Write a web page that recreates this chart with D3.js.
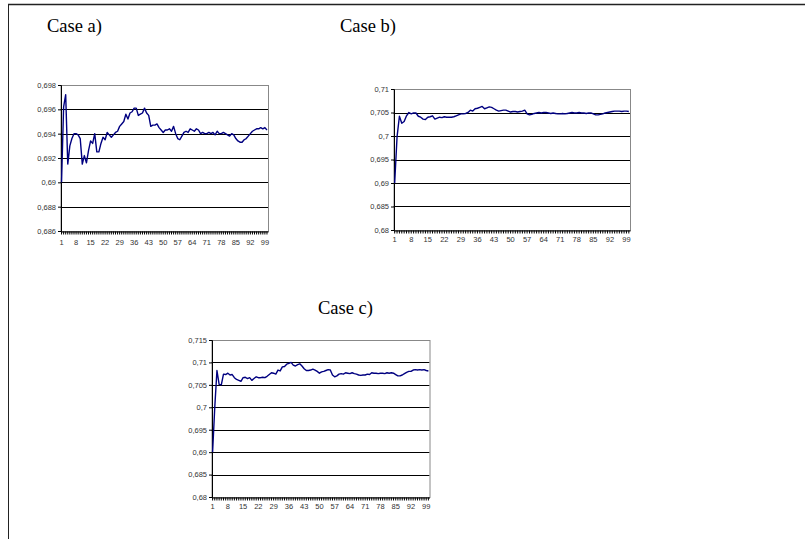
<!DOCTYPE html>
<html>
<head>
<meta charset="utf-8">
<script src="https://cdn.jsdelivr.net/npm/d3@7"></script>
<style>
  body { margin: 0; background: #fff; }
  svg text { font-family: Arial, "Liberation Sans", sans-serif; }
  .title { font-family: "Liberation Serif", "Times New Roman", serif; font-size: 18.5px; }
</style>
</head>
<body>
<svg id="fig" width="805" height="539"></svg>
<script>
(function() {
    'use strict';

    // iteration number 1..100
    var categories = d3.range(1, 101);
    var xLabels = [1, 8, 15, 22, 29, 36, 43, 50, 57, 64, 71, 78, 85, 92, 99];

    var seriesA = [
        0.6900, 0.6962, 0.6972, 0.6915, 0.6930, 0.6936, 0.6940, 0.6940, 0.6939, 0.6936,
        0.6915, 0.6922, 0.6916, 0.6926, 0.6934, 0.6932, 0.6940, 0.6925, 0.6925, 0.6932,
        0.6937, 0.6935, 0.6941, 0.6939, 0.6937, 0.6939, 0.6941, 0.6942, 0.6946, 0.6948,
        0.6950, 0.6956, 0.6952, 0.6957, 0.6958, 0.6961, 0.6961, 0.6955, 0.6956, 0.6957,
        0.6961, 0.6957, 0.6955, 0.6946, 0.6947, 0.6947, 0.6948, 0.6945, 0.6943, 0.6941,
        0.6943, 0.6943, 0.6944, 0.6942, 0.6946, 0.6940, 0.6936, 0.6935, 0.6938, 0.6941,
        0.6942, 0.6941, 0.6944, 0.6943, 0.6942, 0.6944, 0.6943, 0.6940, 0.6941, 0.6940,
        0.6940, 0.6941, 0.6940, 0.6941, 0.6939, 0.6942, 0.6940, 0.6940, 0.6941, 0.6940,
        0.6939, 0.6938, 0.6940, 0.6939, 0.6936, 0.6934, 0.6933, 0.6933, 0.6935, 0.6936,
        0.6938, 0.6940, 0.6942, 0.6943, 0.6944, 0.6944, 0.6945, 0.6944, 0.6945, 0.6943
    ];
    var seriesB = [
        0.6900, 0.6998, 0.7042, 0.7027, 0.7031, 0.7043, 0.7050, 0.7047, 0.7049, 0.7049,
        0.7042, 0.7040, 0.7036, 0.7035, 0.7040, 0.7041, 0.7043, 0.7036, 0.7038, 0.7040,
        0.7039, 0.7041, 0.7040, 0.7040, 0.7040, 0.7041, 0.7043, 0.7045, 0.7047, 0.7047,
        0.7048, 0.7050, 0.7055, 0.7053, 0.7058, 0.7059, 0.7061, 0.7063, 0.7058, 0.7060,
        0.7062, 0.7061, 0.7058, 0.7055, 0.7053, 0.7054, 0.7055, 0.7055, 0.7053, 0.7051,
        0.7052, 0.7052, 0.7051, 0.7052, 0.7053, 0.7055, 0.7047, 0.7045, 0.7046, 0.7048,
        0.7049, 0.7050, 0.7049, 0.7050, 0.7050, 0.7049, 0.7048, 0.7049, 0.7048, 0.7047,
        0.7047, 0.7048, 0.7047, 0.7048, 0.7049, 0.7050, 0.7049, 0.7049, 0.7050, 0.7049,
        0.7049, 0.7048, 0.7049, 0.7049, 0.7047, 0.7045, 0.7045, 0.7046, 0.7047, 0.7049,
        0.7050, 0.7051, 0.7052, 0.7053, 0.7053, 0.7053, 0.7052, 0.7053, 0.7053, 0.7052
    ];
    var seriesC = [
        0.6900, 0.7000, 0.7082, 0.7051, 0.7050, 0.7074, 0.7073, 0.7076, 0.7072, 0.7073,
        0.7066, 0.7062, 0.7060, 0.7058, 0.7066, 0.7067, 0.7064, 0.7066, 0.7060, 0.7064,
        0.7068, 0.7066, 0.7066, 0.7067, 0.7066, 0.7069, 0.7073, 0.7077, 0.7076, 0.7074,
        0.7083, 0.7081, 0.7090, 0.7091, 0.7096, 0.7098, 0.7100, 0.7094, 0.7092, 0.7095,
        0.7097, 0.7092, 0.7086, 0.7082, 0.7082, 0.7083, 0.7085, 0.7083, 0.7080, 0.7076,
        0.7079, 0.7080, 0.7082, 0.7084, 0.7083, 0.7072, 0.7068, 0.7070, 0.7074, 0.7075,
        0.7074, 0.7077, 0.7076, 0.7075, 0.7077, 0.7075, 0.7074, 0.7072, 0.7071, 0.7072,
        0.7072, 0.7074, 0.7073, 0.7077, 0.7076, 0.7076, 0.7075, 0.7076, 0.7076, 0.7075,
        0.7077, 0.7076, 0.7077, 0.7076, 0.7073, 0.7070, 0.7070, 0.7072, 0.7075, 0.7078,
        0.7080, 0.7080, 0.7083, 0.7084, 0.7083, 0.7084, 0.7083, 0.7084, 0.7082, 0.7081
    ];

    var ticksA = [0.686, 0.688, 0.690, 0.692, 0.694, 0.696, 0.698];
    var ticksB = [0.680, 0.685, 0.690, 0.695, 0.700, 0.705, 0.710];
    var ticksC = [0.680, 0.685, 0.690, 0.695, 0.700, 0.705, 0.710, 0.715];

    var titles = ["Case a)", "Case b)", "Case c)"];

    var commaLocale = d3.formatLocale({decimal: ",", thousands: ".", grouping: [3], currency: ["", ""]});
    var fmt = commaLocale.format("~g");

    var svg = d3.select("#fig");

    // page frame: top and left rule
    svg.append("line")
        .attr("x1", 8).attr("x2", 805).attr("y1", 4.5).attr("y2", 4.5)
        .attr("stroke", "#222").attr("stroke-width", 1.5);
    svg.append("line")
        .attr("x1", 8.5).attr("x2", 8.5).attr("y1", 4).attr("y2", 539)
        .attr("stroke", "#222").attr("stroke-width", 1);

    function build_chart(box, values, ticks, labelGap) {
        var g = svg.append("g")
            .attr("transform", "translate(" + box.left + "," + box.top + ")");
        var w = box.width, h = box.height;

        var x = d3.scaleBand()
            .domain(categories)
            .range([0, w]);
        var y = d3.scaleLinear()
            .domain([ticks[0], ticks[ticks.length - 1]])
            .range([h, 0]);

        // gridlines
        g.append("g")
            .selectAll("line")
            .data(ticks.slice(1, -1))
            .join("line")
            .attr("x1", 0).attr("x2", w)
            .attr("y1", function(d) { return Math.round(y(d)) + 0.5; })
            .attr("y2", function(d) { return Math.round(y(d)) + 0.5; })
            .attr("stroke", "#000").attr("stroke-width", 1);

        // plot area border
        g.append("rect")
            .attr("x", 0.5).attr("y", 0.5)
            .attr("width", w).attr("height", h)
            .attr("fill", "none").attr("stroke", "#888");

        // y axis
        var yAxis = d3.axisLeft(y)
            .tickValues(ticks)
            .tickSize(3)
            .tickPadding(2)
            .tickFormat(fmt);
        var ya = g.append("g")
            .attr("class", "y axis")
            .attr("transform", "translate(0.5,0)")
            .call(yAxis);
        ya.select(".domain").attr("stroke", "#000");
        ya.selectAll("text").attr("font-size", 7.5).attr("fill", "#333");

        // x axis with a tick per category
        var xTicks = d3.axisBottom(x)
            .tickSize(3)
            .tickSizeOuter(0)
            .tickFormat("");
        var xa = g.append("g")
            .attr("class", "x axis")
            .attr("transform", "translate(0," + (Math.round(h) + 0.5) + ")")
            .call(xTicks);
        xa.select(".domain").attr("stroke", "#000");
        xa.selectAll(".tick line").attr("stroke", "#000");

        var xLab = d3.axisBottom(x)
            .tickValues(xLabels)
            .tickSize(0)
            .tickPadding(labelGap);
        var xl = g.append("g")
            .attr("transform", "translate(0," + h + ")")
            .call(xLab);
        xl.select(".domain").remove();
        xl.selectAll("text").attr("font-size", 7.5).attr("fill", "#333");

        // series line
        var line = d3.line()
            .x(function(d, i) { return x(categories[i]) + x.bandwidth() / 2; })
            .y(function(d) { return y(d); });
        g.append("path")
            .datum(values)
            .attr("fill", "none")
            .attr("stroke", "#000080")
            .attr("stroke-width", 1.4)
            .attr("stroke-linejoin", "round")
            .attr("d", line);
    }

    build_chart({left: 60.5, top: 85, width: 207.5, height: 146}, seriesA, ticksA, 8.5);
    build_chart({left: 393.5, top: 89, width: 236.5, height: 141}, seriesB, ticksB, 7);
    build_chart({left: 211.5, top: 340, width: 218, height: 157}, seriesC, ticksC, 7);

    svg.append("text").attr("class", "title").attr("x", 47).attr("y", 32).text(titles[0]);
    svg.append("text").attr("class", "title").attr("x", 340).attr("y", 32).text(titles[1]);
    svg.append("text").attr("class", "title").attr("x", 318).attr("y", 314).text(titles[2]);
})();
</script>
</body>
</html>
